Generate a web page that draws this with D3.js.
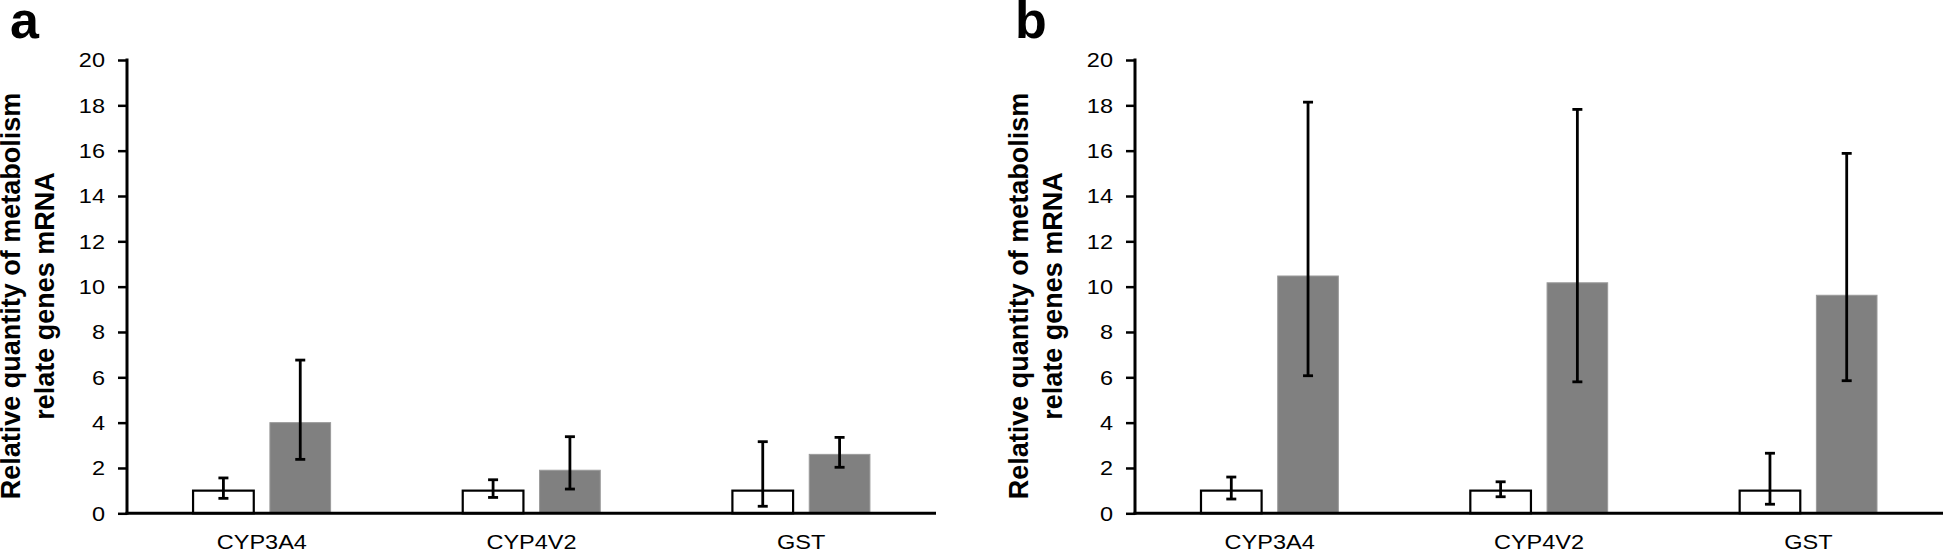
<!DOCTYPE html>
<html>
<head>
<meta charset="utf-8">
<script src="https://cdn.jsdelivr.net/npm/d3@7"></script>
<style>
  html, body { margin: 0; padding: 0; background: #fff; }
  svg { display: block; font-family: Arial, "Liberation Sans", sans-serif; }
</style>
</head>
<body>
<svg id="chart" width="1945" height="553"></svg>
<script>
// ---- data ----
const categories = ["CYP3A4", "CYP4V2", "GST"];
const yTicks = [0, 2, 4, 6, 8, 10, 12, 14, 16, 18, 20];

// panel a
const aControl     = [1.0, 1.0, 1.0];
const aControlLow  = [0.66, 0.70, 0.31];
const aControlHigh = [1.56, 1.48, 3.16];
const aTreat       = [4.0, 1.9, 2.6];
const aTreatLow    = [2.38, 1.07, 2.03];
const aTreatHigh   = [6.76, 3.38, 3.35];

// panel b
const bControl     = [1.0, 1.0, 1.0];
const bControlLow  = [0.63, 0.73, 0.40];
const bControlHigh = [1.60, 1.39, 2.65];
const bTreat       = [10.47, 10.17, 9.62];
const bTreatLow    = [6.07, 5.80, 5.85];
const bTreatHigh   = [18.14, 17.82, 15.88];

const yLabelLines = ["Relative quantity of metabolism", "relate genes mRNA"];
const panelLetters = ["a", "b"];

const svg = d3.select("#chart");

function buildRows(ctrl, ctrlLo, ctrlHi, trt, trtLo, trtHi) {
  const rows = [];
  categories.forEach((c, i) => {
    rows.push({cat: c, grp: "control", v: ctrl[i], lo: ctrlLo[i], hi: ctrlHi[i]});
    rows.push({cat: c, grp: "treat", v: trt[i], lo: trtLo[i], hi: trtHi[i]});
  });
  return rows;
}

function drawPanel(letter, x0, x1, rows, labelX) {
  const yTop = 60, yBot = 513.3;
  const g = svg.append("g");

  const x = d3.scaleBand().domain(categories).range([x0, x1])
    .paddingInner(0.49).paddingOuter(0.245);
  const xs = d3.scaleBand().domain(["control", "treat"]).range([0, x.bandwidth()])
    .paddingInner(0.21);
  const y = d3.scaleLinear().domain([0, 20]).range([yBot, yTop]);

  // bars
  g.selectAll("rect.bar").data(rows).join("rect")
    .attr("class", "bar")
    .attr("x", d => x(d.cat) + xs(d.grp))
    .attr("width", xs.bandwidth())
    .attr("y", d => y(d.v))
    .attr("height", d => y(0) - y(d.v))
    .attr("fill", d => d.grp === "control" ? "#ffffff" : "#808080")
    .attr("stroke", d => d.grp === "control" ? "#000" : "#9a9a9a")
    .attr("stroke-width", d => d.grp === "control" ? 2.2 : 1);

  // error bars
  const cx = d => x(d.cat) + xs(d.grp) + xs.bandwidth() / 2;
  const eb = g.selectAll("g.err").data(rows).join("g").attr("class", "err")
    .attr("stroke", "#000").attr("stroke-width", 2.8);
  eb.append("line").attr("x1", cx).attr("x2", cx)
    .attr("y1", d => y(d.lo)).attr("y2", d => y(d.hi));
  eb.append("line").attr("x1", d => cx(d) - 5).attr("x2", d => cx(d) + 5)
    .attr("y1", d => y(d.hi)).attr("y2", d => y(d.hi));
  eb.append("line").attr("x1", d => cx(d) - 5).attr("x2", d => cx(d) + 5)
    .attr("y1", d => y(d.lo)).attr("y2", d => y(d.lo));

  // y axis
  const yAxis = g.append("g").attr("transform", `translate(${x0},0)`)
    .call(d3.axisLeft(y).tickValues(yTicks).tickSize(9).tickPadding(12).tickFormat(d3.format("d")));
  yAxis.select(".domain").remove();
  yAxis.selectAll(".tick line").attr("stroke", "#000").attr("stroke-width", 2.5);
  yAxis.selectAll(".tick text").attr("font-size", "21px").attr("fill", "#000")
    .attr("font-family", "Arial, 'Liberation Sans', sans-serif")
    .attr("transform", "scale(1.12,1)")
    .attr("x", -22 / 1.12);
  g.append("line").attr("x1", x0).attr("x2", x0).attr("y1", yTop - 1.5).attr("y2", yBot + 1.5)
    .attr("stroke", "#000").attr("stroke-width", 3);

  // x axis
  g.append("line").attr("x1", x0 - 1.5).attr("x2", x1).attr("y1", yBot).attr("y2", yBot)
    .attr("stroke", "#000").attr("stroke-width", 3);
  const xAxis = g.append("g").attr("transform", `translate(0,${yBot})`)
    .call(d3.axisBottom(x).tickSize(0).tickPadding(0));
  xAxis.select(".domain").remove();
  xAxis.selectAll(".tick text").attr("font-size", "21px").attr("fill", "#000")
    .attr("font-family", "Arial, 'Liberation Sans', sans-serif")
    .attr("dy", null).attr("y", 36)
    .attr("transform", "scale(1.12,1)")
    .attr("x", 0);
  xAxis.selectAll(".tick").each(function(d) {
    const t = d3.select(this);
    const cxv = x(d) + x.bandwidth() / 2;
    t.attr("transform", `translate(${cxv},0)`);
  });

  // y label
  const ymid = 296;
  const lab = g.append("text")
    .attr("transform", `translate(${labelX},${ymid}) rotate(-90)`)
    .attr("text-anchor", "middle")
    .attr("font-weight", "bold").attr("font-size", "27px").attr("fill", "#000");
  lab.append("tspan").attr("x", 0).attr("y", 0).text(yLabelLines[0]);
  lab.append("tspan").attr("x", 0).attr("y", 34).text(yLabelLines[1]);

  // panel letter
  g.append("text").attr("x", letter.x).attr("y", 38)
    .attr("font-weight", "bold").attr("font-size", "52px").attr("fill", "#000")
    .text(letter.t);
}

drawPanel({t: panelLetters[0], x: 10}, 127, 936,
  buildRows(aControl, aControlLow, aControlHigh, aTreat, aTreatLow, aTreatHigh), 20);
drawPanel({t: panelLetters[1], x: 1015}, 1135, 1943,
  buildRows(bControl, bControlLow, bControlHigh, bTreat, bTreatLow, bTreatHigh), 1028);
</script>
</body>
</html>
